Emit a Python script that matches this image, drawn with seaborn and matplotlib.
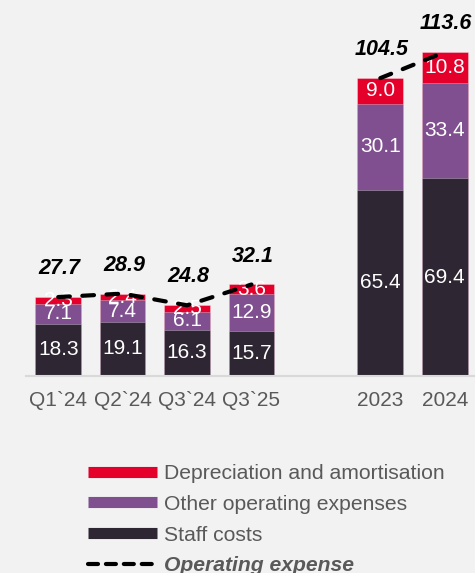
import numpy as np
import pandas as pd
import matplotlib
matplotlib.use("Agg")
import matplotlib.pyplot as plt
from matplotlib.lines import Line2D
import seaborn as sns

# ---- data ----
categories = ["Q1`24", "Q2`24", "Q3`24", "Q3`25", "2023", "2024"]
staff_costs = [18.3, 19.1, 16.3, 15.7, 65.4, 69.4]
other_opex = [7.1, 7.4, 6.1, 12.9, 30.1, 33.4]
depreciation = [2.3, 2.4, 2.5, 3.6, 9.0, 10.8]
totals = [27.7, 28.9, 24.8, 32.1, 104.5, 113.6]
line_groups = [["Q1`24", "Q2`24", "Q3`24", "Q3`25"], ["2023", "2024"]]
legend_labels = ["Depreciation and amortisation", "Other operating expenses",
                 "Staff costs", "Operating expense"]

# ---- style ----
BG = "#f2f2f2"
RED = "#e4002b"
PURPLE = "#7f4f8f"
DARK = "#2e2733"
GREY_TXT = "#595959"

sns.set_theme(style="white")
plt.rcParams["font.family"] = ["Liberation Sans", "DejaVu Sans"]

order = ["Q1`24", "Q2`24", "Q3`24", "Q3`25", " ", "2023", "2024"]
pos = {c: order.index(c) for c in order}

df = pd.DataFrame({
    "cat": categories,
    "staff": staff_costs,
    "other": other_opex,
    "dep": depreciation,
    "total": totals,
})
df["lvl2"] = df["staff"] + df["other"]
df["lvl3"] = df["lvl2"] + df["dep"]

fig = plt.figure(figsize=(4.75, 5.73), dpi=100, facecolor=BG)
ax = fig.add_axes([26 / 475, 1 - 376 / 573, 1 - 26 / 475, (376 - 10) / 573])
ax.set_facecolor(BG)

W = 0.71
for col, color in [("lvl3", RED), ("lvl2", PURPLE), ("staff", DARK)]:
    sns.barplot(data=df, x="cat", y=col, order=order, color=color,
                width=W, saturation=1, ax=ax,
                edgecolor=(1, 1, 1, 0.35), linewidth=0.6)

# segment labels
for _, r in df.iterrows():
    x = pos[r["cat"]]
    bottoms = [0, r["staff"], r["lvl2"]]
    heights = [r["staff"], r["other"], r["dep"]]
    for b, h in zip(bottoms, heights):
        ax.text(x, b + h / 2, f"{h:.1f}", ha="center", va="center",
                color="white", fontsize=15, zorder=4)

# dashed total lines
for grp in line_groups:
    sub = df[df["cat"].isin(grp)]
    xs = [pos[c] for c in sub["cat"]]
    sns.lineplot(x=xs, y=sub["total"].values, ax=ax, color="black",
                 linewidth=3, linestyle=(0, (2.8, 3.0)),
                 dash_capstyle="round", zorder=5)

# total labels
for _, r in df.iterrows():
    ax.annotate(f"{r['total']:.1f}", (pos[r["cat"]], r["total"]),
                xytext=(1, 20.5), textcoords="offset points",
                ha="center", va="center", fontsize=15.5,
                fontweight="bold", fontstyle="italic", color="black",
                zorder=6)

ax.set_xlim(-0.5, 6.47)
ax.set_ylim(0, 128.4)
ax.set_xlabel("")
ax.set_ylabel("")
ax.set_yticks([])
ax.set_xticks(range(len(order)))
ax.set_xticklabels(order)
ax.tick_params(axis="x", length=0, pad=11, labelsize=15, labelcolor=GREY_TXT)
for s in ["top", "right", "left"]:
    ax.spines[s].set_visible(False)
ax.spines["bottom"].set_color("#d9d9d9")
ax.spines["bottom"].set_linewidth(1.5)

handles = [
    Line2D([], [], color=RED, lw=8, solid_capstyle="butt"),
    Line2D([], [], color=PURPLE, lw=8, solid_capstyle="butt"),
    Line2D([], [], color=DARK, lw=8, solid_capstyle="butt"),
    Line2D([], [], color="black", lw=3, linestyle=(0, (2.4, 1.9)),
           dash_capstyle="round"),
]
leg = fig.legend(handles, legend_labels, loc="upper left",
                 bbox_to_anchor=(88 / 475, 1 - 464 / 573),
                 frameon=False, fontsize=15.2, handlelength=3.25,
                 handletextpad=0.33, labelspacing=0.56, borderpad=0,
                 borderaxespad=0)
for t in leg.get_texts():
    t.set_color(GREY_TXT)
leg.get_texts()[3].set_fontweight("bold")
leg.get_texts()[3].set_fontstyle("italic")

fig.savefig("out.png", dpi=100, facecolor=BG)
